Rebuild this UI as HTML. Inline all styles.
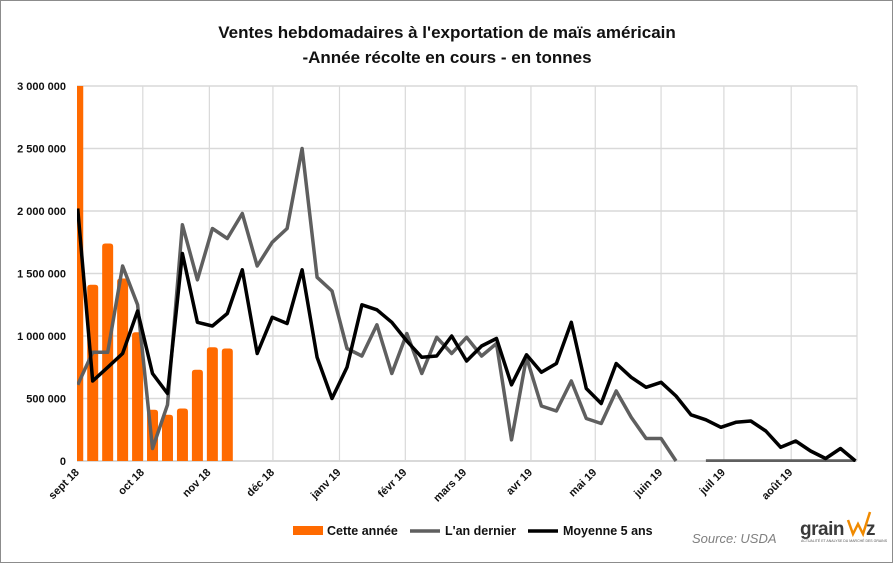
<!DOCTYPE html>
<html><head><meta charset="utf-8"><style>
html,body{margin:0;padding:0;background:#fff;}
body{width:893px;height:563px;overflow:hidden;font-family:"Liberation Sans",sans-serif;}
</style></head><body>
<svg id="chart" width="893" height="563" viewBox="0 0 893 563" xmlns="http://www.w3.org/2000/svg" font-family="Liberation Sans, sans-serif">
<rect x="0.5" y="0.5" width="892" height="562" fill="#fff" stroke="#8c8c8c"/>
<text x="447" y="38" text-anchor="middle" font-size="17" font-weight="bold" fill="#111">Ventes hebdomadaires  à l'exportation de maïs américain</text>
<text x="447" y="63" text-anchor="middle" font-size="17" font-weight="bold" fill="#111">-Année récolte en cours - en tonnes</text>
<defs><clipPath id="plotclip"><rect x="77" y="86" width="780" height="376"/></clipPath></defs>
<g id="grid"></g>
<g id="yaxis"></g>
<g id="xaxis"></g>
<g id="bars" clip-path="url(#plotclip)"></g>
<g id="lines" clip-path="url(#plotclip)"></g>
<g>
 <g><rect x="293" y="526" width="30" height="9" fill="#ff6a00"/><text x="327" y="535" font-size="12.5" font-weight="bold" fill="#111">Cette année</text></g>
 <g><line x1="410" y1="531" x2="440" y2="531" stroke="#5f5f5f" stroke-width="3.5"/><text x="445" y="535" font-size="12.5" font-weight="bold" fill="#111">L'an dernier</text></g>
 <g><line x1="528" y1="531" x2="558" y2="531" stroke="#000" stroke-width="3.5"/><text x="563" y="535" font-size="12.5" font-weight="bold" fill="#111">Moyenne 5 ans</text></g>
</g>
<text x="692" y="543" font-size="13" font-style="italic" fill="#7f7f7f">Source:  USDA</text>
<g>
 <text x="800" y="535" font-size="19" font-weight="bold" fill="#3a3a3a" letter-spacing="-0.5">grain</text>
 <polyline points="848,520 853,534 858,524 863,534 870,512" fill="none" stroke="#f08a00" stroke-width="2.5"/>
 <text x="866" y="535" font-size="19" font-weight="bold" fill="#3a3a3a">z</text>
 <text x="801" y="542" font-size="3.5" fill="#555">ACTUALITÉ ET ANALYSE DU MARCHÉ DES GRAINS</text>
</g>
</svg>
<script>
const yTicks = [0, 500000, 1000000, 1500000, 2000000, 2500000, 3000000];
const yTickLabels = ["0", "500 000", "1 000 000", "1 500 000", "2 000 000", "2 500 000", "3 000 000"];
const monthLabels = ["sept 18","oct 18","nov 18","déc 18","janv 19","févr 19","mars 19","avr 19","mai 19","juin 19","juil 19","août 19"];
const monthWeekPos = [0, 4.35, 8.8, 13.05, 17.5, 21.9, 25.9, 30.3, 34.6, 39.0, 43.2, 47.7, 52.1];
const thisYear = [3500000,1410000,1740000,1460000,1030000,410000,370000,420000,730000,910000,900000];
const lastYear = [610000,870000,870000,1560000,1250000,100000,450000,1890000,1450000,1860000,1780000,1980000,1560000,1750000,1860000,2500000,1470000,1360000,
 900000,840000,1090000,700000,1020000,700000,990000,860000,990000,840000,940000,170000,830000,440000,400000,640000,340000,300000,560000,350000,180000,180000,0,null,
 0,0,0,0,0,0,0,0,0,0,0];
const avg5 = [2020000,640000,750000,860000,1200000,700000,540000,1660000,1110000,1080000,1180000,1530000,860000,1150000,1100000,1530000,830000,500000,750000,1250000,1210000,1110000,960000,830000,840000,1000000,800000,920000,980000,610000,850000,710000,780000,1110000,580000,460000,780000,670000,590000,630000,520000,370000,330000,270000,310000,320000,240000,110000,160000,80000,20000,100000,0];

const NS="http://www.w3.org/2000/svg";
const X0=77, X1=857, Y0=461, Y1=86;
const W0=-0.05, W1=52.1;
function xs(w){return X0+(w-W0)/(W1-W0)*(X1-X0);}
function ys(v){return Y0-v/3000000*(Y0-Y1);}
function mk(tag,attrs,parent){const e=document.createElementNS(NS,tag);for(const k in attrs)e.setAttribute(k,attrs[k]);parent.appendChild(e);return e;}
const grid=document.getElementById('grid'),yax=document.getElementById('yaxis'),xax=document.getElementById('xaxis');
yTicks.forEach((t,i)=>{
  const l=mk('line',{x1:X0,x2:X1,y1:ys(t),y2:ys(t),stroke:'#d9d9d9','stroke-width':1.5},grid);
  
  
  const tx=mk('text',{x:66,y:ys(t)+4,'text-anchor':'end','font-size':11,'font-weight':'bold',fill:'#111'},yax);
  tx.textContent=yTickLabels[i];
  
  
});
monthWeekPos.forEach((w,i)=>{
  const x=xs(w);
  const l=mk('line',{x1:x,x2:x,y1:Y1,y2:Y0,stroke:'#d9d9d9','stroke-width':1.2},grid);
  
  
  if(i<monthLabels.length){
    const tx=mk('text',{x:x+2,y:Y0+12,'text-anchor':'end','font-size':11,'font-weight':'bold',fill:'#111',transform:`rotate(-45 ${x+2} ${Y0+12})`},xax);
    tx.textContent=monthLabels[i];
    
    
  }
});
const ax=mk('line',{x1:X0,x2:X1,y1:Y0,y2:Y0,stroke:'#d9d9d9','stroke-width':2},grid);


const bars=document.getElementById('bars');
thisYear.forEach((v,i)=>{
  const x=xs(i), y=ys(v), bw=11;
  const r=mk('path',{d:`M${x-bw/2},${Y0} L${x-bw/2},${y+3} Q${x-bw/2},${y} ${x-bw/2+3},${y} L${x+bw/2-3},${y} Q${x+bw/2},${y} ${x+bw/2},${y+3} L${x+bw/2},${Y0} Z`,fill:'#ff6a00'},bars);
  
  
});
const lines=document.getElementById('lines');
function drawLine(arr,color,name){
  let segs=[],cur=[];
  arr.forEach((v,i)=>{if(v===null){if(cur.length)segs.push(cur);cur=[];}else cur.push(xs(i).toFixed(1)+','+ys(v).toFixed(1));});
  if(cur.length)segs.push(cur);
  segs.forEach(s=>{
    const p=mk('polyline',{points:s.join(' '),fill:'none',stroke:color,'stroke-width':3.5,'stroke-linejoin':'round'},lines);
    
    
  });
}
drawLine(lastYear,'#5f5f5f','line-last-year');
drawLine(avg5,'#000','line-5yr-average');
</script>
</body></html>
